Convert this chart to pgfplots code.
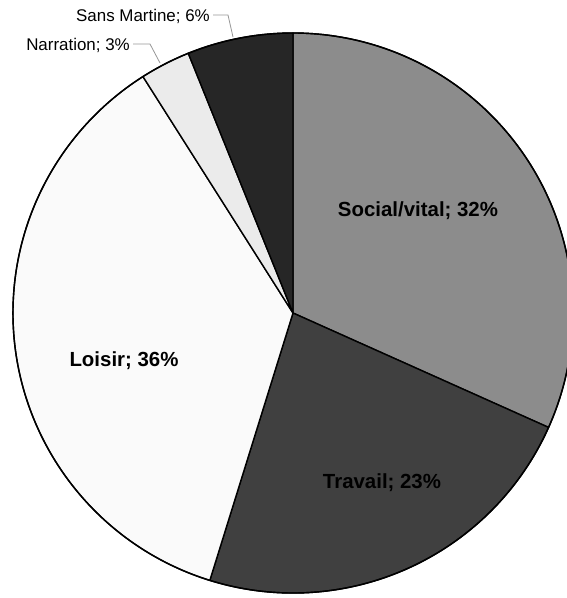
\documentclass[border=0pt]{standalone}
\usepackage{pgfplots}
\usepackage{pgfplotstable}
\pgfplotsset{compat=1.18}
\usepackage{fontspec}
\setmainfont{Liberation Sans}
\definecolor{cSocial}{RGB}{140,140,140}
\definecolor{cTravail}{RGB}{64,64,64}
\definecolor{cLoisir}{RGB}{250,250,250}
\definecolor{cNarr}{RGB}{235,235,235}
\definecolor{cSans}{RGB}{38,38,38}
\definecolor{leader}{RGB}{150,150,150}
\pgfplotstableread[col sep=comma]{
label,value,color
Social/vital,31.7,cSocial
Travail,23.1,cTravail
Loisir,36.2,cLoisir
Narration,2.9,cNarr
Sans Martine,6.1,cSans
}\piedata
\begin{document}
\begin{tikzpicture}
\path[use as bounding box] (0,0) rectangle (567bp,598bp);
\begin{axis}[hide axis, scale only axis, x=1bp, y=1bp,
  xmin=0, xmax=567, ymin=0, ymax=598, clip=false,
  at={(0,0)}, anchor=south west]
\def\startang{90}
\pgfplotsforeachungrouped \i in {0,...,4}{%
  \pgfplotstablegetelem{\i}{value}\of\piedata
  \let\val\pgfplotsretval
  \pgfplotstablegetelem{\i}{color}\of\piedata
  \let\col\pgfplotsretval
  \pgfmathsetmacro\endang{\startang-3.6*\val}
  \edef\temp{\noexpand\filldraw[fill=\col, draw=black, line width=1.4bp, line join=round]
    (axis cs:293,285) -- ++(\startang:280bp) arc[start angle=\startang, end angle=\endang, radius=280bp] -- cycle;}
  \temp
  \global\let\startang\endang
}
\draw[black, line width=1.4bp] (axis cs:293,285) circle[radius=280bp];
% labels
\node[font=\fontsize{20.5}{24}\selectfont\bfseries] at (axis cs:418,387) {Social/vital; 32\%};
\node[font=\fontsize{20.5}{24}\selectfont\bfseries] at (axis cs:382,115) {Travail; 23\%};
\node[font=\fontsize{20.5}{24}\selectfont\bfseries] at (axis cs:124,237) {Loisir; 36\%};
\node[font=\fontsize{17}{20}\selectfont, anchor=east, inner sep=0pt] at (axis cs:210,582) {Sans Martine; 6\%};
\node[font=\fontsize{17}{20}\selectfont, anchor=east, inner sep=0pt] at (axis cs:130,553) {Narration; 3\%};
\draw[leader, line width=0.8bp] (axis cs:213,583) -- (axis cs:228,583) -- (axis cs:233,561);
\draw[leader, line width=0.8bp] (axis cs:133,554) -- (axis cs:150,554) -- (axis cs:160,535);
\end{axis}
\end{tikzpicture}
\end{document}
